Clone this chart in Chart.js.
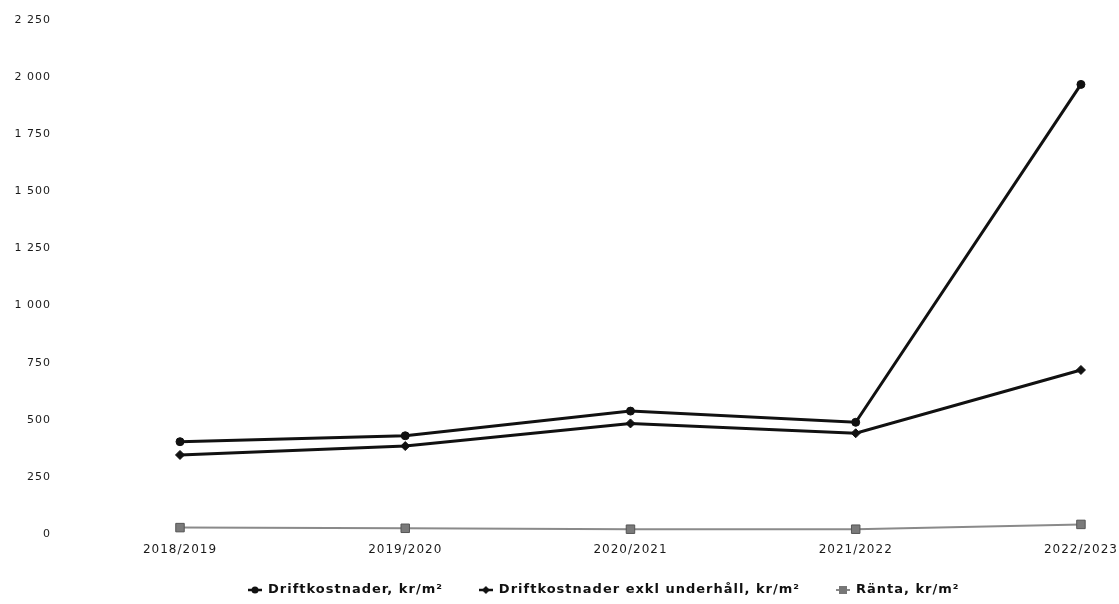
<!DOCTYPE html>
<html>
<head>
<meta charset="utf-8">
<style>
  html, body { margin: 0; padding: 0; background: #ffffff; }
  #wrap { width: 1119px; height: 604px; }
</style>
<script src="https://cdn.jsdelivr.net/npm/chart.js@4/dist/chart.umd.min.js"></script>
</head>
<body>
<div id="wrap"><canvas id="c" width="1119" height="604"></canvas></div>
<script>
// Seasons on the x axis
const seasons = ['2018/2019', '2019/2020', '2020/2021', '2021/2022', '2022/2023'];

// Series values, kr per square metre
const driftkostnader = [404, 430, 538, 489, 1968];
const driftkostnaderExklUnderhall = [346, 385, 484, 441, 718];
const ranta = [28, 25, 21, 21, 42];

// Y axis range and step
const yMin = 0;
const yMax = 2250;
const yStep = 250;

const seriesNames = ['Driftkostnader, kr/m\u00B2', 'Driftkostnader exkl underh\u00E5ll, kr/m\u00B2', 'R\u00E4nta, kr/m\u00B2'];

// Swedish style thousands separator: "2 250"
function formatTick(v) {
  if (v >= 1000) {
    return Math.floor(v / 1000) + ' ' + String(v % 1000).padStart(3, '0');
  }
  return String(v);
}

// Small legend glyph: a line segment with the series marker on it
function legendGlyph(lineColor, lineWidth, marker, fill) {
  const cv = document.createElement('canvas');
  cv.width = 14; cv.height = 12;
  const g = cv.getContext('2d');
  g.strokeStyle = lineColor;
  g.lineWidth = lineWidth;
  g.beginPath(); g.moveTo(0, 6); g.lineTo(14, 6); g.stroke();
  g.fillStyle = fill;
  g.beginPath();
  if (marker === 'circle') {
    g.arc(7, 6, 3.5, 0, Math.PI * 2);
  } else if (marker === 'diamond') {
    g.moveTo(7, 2); g.lineTo(11, 6); g.lineTo(7, 10); g.lineTo(3, 6); g.closePath();
  } else {
    g.rect(3, 2, 8, 8);
  }
  g.fill();
  return cv;
}

const glyphs = [
  legendGlyph('#111', 2.5, 'circle', '#111'),
  legendGlyph('#111', 2.5, 'diamond', '#111'),
  legendGlyph('#888', 2, 'square', '#777')
];

const FONT = "'DejaVu Sans', Verdana, sans-serif";

// Letter spacing for all canvas text (canvas resets clear it, so set it per pass)
const spacingPlugin = {
  id: 'spacing',
  beforeLayout(chart) { chart.ctx.letterSpacing = '1px'; },
  beforeDraw(chart) { chart.ctx.letterSpacing = '1px'; }
};

// One-row legend along the bottom edge, built from the dataset labels
const legendRow = { centerX: 604, y: 590, gap: 36, glyphGap: 6 };
const bottomLegendPlugin = {
  id: 'bottomLegend',
  afterDraw(chart) {
    const ctx = chart.ctx;
    ctx.save();
    ctx.letterSpacing = '1px';
    ctx.font = "bold 13px " + FONT;
    ctx.textBaseline = 'middle';
    ctx.textAlign = 'left';
    ctx.fillStyle = '#111111';
    const items = chart.data.datasets.map((ds, i) => ({
      text: ds.label,
      glyph: glyphs[i],
      w: ctx.measureText(ds.label).width
    }));
    const total = items.reduce((s, it) => s + it.glyph.width + legendRow.glyphGap + it.w, 0)
      + legendRow.gap * (items.length - 1);
    let x = Math.round(legendRow.centerX - total / 2);
    items.forEach((it) => {
      ctx.drawImage(it.glyph, x, legendRow.y - it.glyph.height / 2);
      x += it.glyph.width + legendRow.glyphGap;
      ctx.fillText(it.text, x, legendRow.y);
      x += it.w + legendRow.gap;
    });
    ctx.restore();
  }
};

new Chart(document.getElementById('c'), {
  type: 'line',
  data: {
    labels: seasons,
    datasets: [
      {
        label: seriesNames[0],
        data: driftkostnader,
        borderColor: '#111111',
        backgroundColor: '#111111',
        borderWidth: 3,
        pointStyle: 'circle',
        pointRadius: 4,
        pointBackgroundColor: '#111111',
        pointBorderColor: '#111111',
        pointBorderWidth: 1,
        tension: 0
      },
      {
        label: seriesNames[1],
        data: driftkostnaderExklUnderhall,
        borderColor: '#111111',
        backgroundColor: '#111111',
        borderWidth: 3,
        pointStyle: 'rectRot',
        pointRadius: 4.5,
        pointBackgroundColor: '#111111',
        pointBorderColor: '#111111',
        pointBorderWidth: 1,
        tension: 0
      },
      {
        label: seriesNames[2],
        data: ranta,
        borderColor: '#8a8a8a',
        backgroundColor: '#777777',
        borderWidth: 2,
        pointStyle: 'rect',
        pointRadius: 6,
        pointBackgroundColor: '#7a7a7a',
        pointBorderColor: '#555555',
        pointBorderWidth: 1,
        tension: 0
      }
    ]
  },
  options: {
    responsive: false,
    animation: false,
    devicePixelRatio: 1,
    layout: { padding: { top: 20, right: 0, bottom: 49, left: 0 } },
    scales: {
      x: {
        offset: false,
        grid: { display: false },
        border: { display: false },
        afterFit(axis) { axis.height = 21; },
        ticks: {
          color: '#1a1a1a',
          font: { family: FONT, size: 12 },
          padding: 1,
          maxRotation: 0,
          autoSkip: false
        }
      },
      y: {
        min: yMin,
        max: yMax,
        grid: { display: false },
        border: { display: false },
        afterFit(axis) {
          axis.width = 180;
          axis.paddingTop = 0;
          axis.paddingBottom = 0;
        },
        ticks: {
          stepSize: yStep,
          color: '#1a1a1a',
          font: { family: FONT, size: 11 },
          padding: 121,
          callback: (v) => formatTick(v)
        }
      }
    },
    plugins: {
      tooltip: { enabled: false },
      legend: { display: false }
    }
  },
  plugins: [spacingPlugin, bottomLegendPlugin]
});
</script>
</body>
</html>
